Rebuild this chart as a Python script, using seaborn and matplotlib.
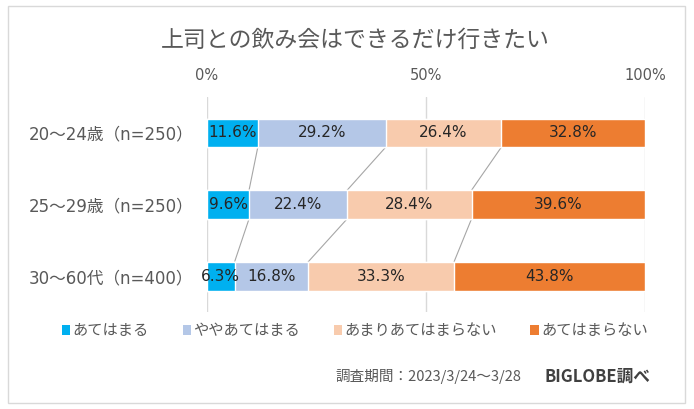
import matplotlib
matplotlib.use("Agg")
from matplotlib import pyplot as plt
from matplotlib.patches import Rectangle, Patch
import seaborn as sns
import numpy as np

# data
groups = ['20～24歳（n=250）', '25～29歳（n=250）', '30～60代（n=400）']
answers = ['あてはまる', 'ややあてはまる', 'あまりあてはまらない', 'あてはまらない']
v_yes = [11.6, 9.6, 6.3]
v_some = [29.2, 22.4, 16.8]
v_not_much = [26.4, 28.4, 33.3]
v_no = [32.8, 39.6, 43.8]
colors = ['#00B0F0', '#B4C7E7', '#F8CBAD', '#ED7D31']
ticks = [0, 50, 100]
tick_labels = ['0%', '50%', '100%']

sns.set_theme(style='white')
# latin glyphs from DejaVu (wider, closer to the original), kana/kanji from Noto
plt.rcParams['font.family'] = ['DejaVu Sans', 'Noto Sans CJK JP']
CJK = ['Noto Sans CJK JP', 'DejaVu Sans']

W, H = 694, 409
fig = plt.figure(figsize=(W / 100, H / 100), dpi=100)
ax = fig.add_axes([207 / W, 1 - 312 / H, (645 - 207) / W, (312 - 97) / H])

values = np.array([v_yes, v_some, v_not_much, v_no]).T
cum = np.cumsum(values, axis=1)
# the rows add to 100.0 or 100.1 from rounding, the bars end at 100
cum[:, -1] = 100

# grid behind the bars
for t in ticks:
    ax.axvline(t, color='#D9D9D9', lw=1, zorder=0)

# stacked bars: draw cumulative totals from the right-most segment down
for k in range(len(answers) - 1, -1, -1):
    sns.barplot(x=cum[:, k], y=groups, orient='h', color=colors[k],
                width=0.4, saturation=1, ax=ax, zorder=2)

# connector lines between bars
for i in range(len(groups) - 1):
    for k in range(len(answers) - 1):
        ax.plot([cum[i, k], cum[i + 1, k]], [i + 0.2, i + 0.8],
                color='#A6A6A6', lw=0.8, zorder=1)

# value labels
starts = cum - values
for i in range(len(groups)):
    for k in range(len(answers)):
        ax.text(starts[i, k] + values[i, k] / 2, i, f'{values[i, k]:.1f}%',
                ha='center', va='center', fontsize=11, color='#262626',
                family=['DejaVu Sans'], zorder=3)

ax.set_xlim(0, 100)
ax.set_ylim(2.5, -0.5)
ax.set_xticks(ticks)
ax.set_xticklabels(tick_labels, fontsize=10.5, color='#595959')
ax.xaxis.tick_top()
ax.tick_params(axis='x', length=0, pad=10)
ax.tick_params(axis='y', length=0, pad=10, labelsize=12, labelcolor='#595959')
ax.set_xlabel('')
ax.set_ylabel('')
for s in ax.spines.values():
    s.set_visible(False)

fig.text(355 / W, 1 - 40 / H, '上司との飲み会はできるだけ行きたい',
         ha='center', va='center', fontsize=16.5, color='#595959', family=CJK)

handles = [Patch(facecolor=c, edgecolor='none') for c in colors]
fig.legend(handles, answers, loc='center', bbox_to_anchor=(355 / W, 1 - 331 / H),
           ncol=4, frameon=False, prop={'family': CJK, 'size': 11}, labelcolor='#595959',
           handlelength=0.55, handleheight=0.55, handletextpad=0.15,
           columnspacing=2.2)

fig.text(335 / W, 1 - 377 / H, '調査期間：2023/3/24～3/28', ha='left', va='center',
         fontsize=10.5, color='#595959', family=CJK)
fig.text(545 / W, 1 - 377 / H, 'BIGLOBE調べ', ha='left', va='center',
         fontsize=12, fontweight='bold', color='#404040', family=CJK)

fig.patches.append(Rectangle((8 / W, 1 - 403 / H), (685 - 8) / W, (403 - 6) / H,
                             transform=fig.transFigure, fill=False,
                             edgecolor='#D9D9D9', lw=1))

fig.savefig('out.png', dpi=100)
